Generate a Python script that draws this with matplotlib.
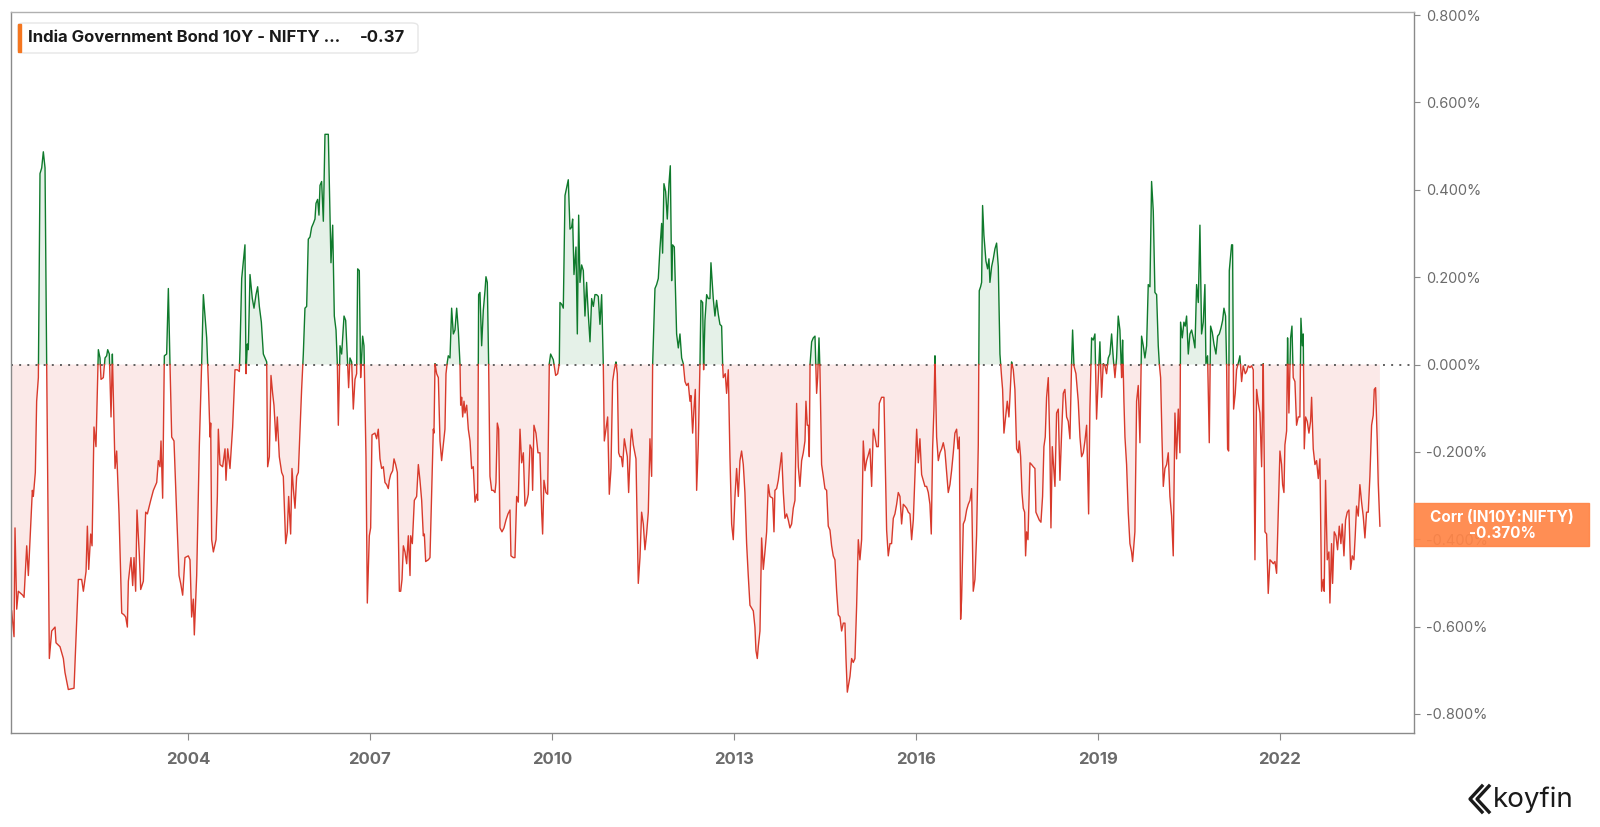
import numpy as np
import matplotlib
matplotlib.use("Agg")
import matplotlib.pyplot as plt
from matplotlib.patches import FancyBboxPatch, Rectangle
from matplotlib.lines import Line2D

plt.rcParams['font.family'] = ['Inter', 'DejaVu Sans']

# rolling correlation IN10Y vs NIFTY (decimal years, value)
years_a = [2001.096, 2001.135, 2001.151, 2001.179, 2001.206, 2001.278, 2001.300, 2001.344, 2001.371, 2001.410,
           2001.437, 2001.453, 2001.486, 2001.508, 2001.536, 2001.563, 2001.591, 2001.618, 2001.646, 2001.673,
           2001.717, 2001.756, 2001.811, 2001.827, 2001.893, 2001.948, 2001.975, 2002.030, 2002.124, 2002.195,
           2002.250, 2002.278, 2002.322, 2002.344, 2002.366, 2002.399, 2002.421, 2002.453, 2002.486, 2002.525,
           2002.552, 2002.569, 2002.607, 2002.635, 2002.662, 2002.679, 2002.706, 2002.734, 2002.756, 2002.800,
           2002.827, 2002.866, 2002.910, 2002.948, 2002.976, 2003.003, 2003.020, 2003.063, 2003.091, 2003.113,
           2003.140, 2003.162, 2003.201, 2003.223, 2003.267, 2003.305, 2003.333, 2003.388, 2003.432, 2003.487,
           2003.514, 2003.541, 2003.558, 2003.585, 2003.613, 2003.651, 2003.679, 2003.706, 2003.734, 2003.772,
           2003.816, 2003.855, 2003.882, 2003.915, 2003.953, 2004.008, 2004.036, 2004.063, 2004.091, 2004.107,
           2004.146, 2004.190, 2004.228, 2004.256, 2004.311, 2004.338, 2004.366, 2004.377, 2004.393, 2004.421,
           2004.465, 2004.487, 2004.503, 2004.530, 2004.574, 2004.613, 2004.629, 2004.657, 2004.695, 2004.739,
           2004.778, 2004.816, 2004.849, 2004.860, 2004.888, 2004.942, 2004.959, 2004.981, 2004.997, 2005.025,
           2005.063, 2005.091, 2005.124, 2005.151, 2005.179, 2005.212, 2005.245, 2005.300, 2005.316, 2005.344,
           2005.371, 2005.398, 2005.420, 2005.453, 2005.475, 2005.508, 2005.547, 2005.574, 2005.613, 2005.640,
           2005.662, 2005.695, 2005.717, 2005.739, 2005.767, 2005.794, 2005.822, 2005.876, 2005.904, 2005.931,
           2005.959, 2005.986, 2006.014, 2006.041, 2006.069, 2006.096, 2006.113, 2006.140, 2006.162, 2006.179,
           2006.206, 2006.234, 2006.261, 2006.316, 2006.344, 2006.360, 2006.388, 2006.415, 2006.443, 2006.465,
           2006.481, 2006.509, 2006.536, 2006.575, 2006.602, 2006.630, 2006.651, 2006.673, 2006.701, 2006.728,
           2006.756, 2006.783, 2006.800, 2006.827, 2006.849, 2006.882, 2006.904, 2006.937, 2006.959, 2006.992,
           2007.014, 2007.036, 2007.085, 2007.113, 2007.140]
vals_a = [-0.564, -0.623, -0.374, -0.560, -0.519, -0.528, -0.533, -0.415, -0.483, -0.370,
          -0.288, -0.302, -0.247, -0.084, -0.030, 0.437, 0.450, 0.487, 0.450, 0.002,
          -0.673, -0.610, -0.601, -0.637, -0.646, -0.673, -0.705, -0.744, -0.741, -0.492,
          -0.492, -0.519, -0.474, -0.370, -0.469, -0.388, -0.415, -0.143, -0.188, 0.034,
          0.015, -0.034, -0.030, 0.015, 0.020, 0.034, 0.024, -0.120, 0.024, -0.238,
          -0.198, -0.342, -0.569, -0.573, -0.578, -0.601, -0.496, -0.442, -0.506, -0.442,
          -0.519, -0.333, -0.438, -0.515, -0.496, -0.338, -0.342, -0.311, -0.288, -0.270,
          -0.220, -0.234, -0.175, -0.306, 0.020, 0.024, 0.174, 0.002, -0.166, -0.175,
          -0.342, -0.483, -0.501, -0.528, -0.442, -0.438, -0.447, -0.578, -0.537, -0.619,
          -0.483, -0.184, 0.002, 0.160, 0.061, -0.039, -0.166, -0.134, -0.401, -0.429,
          -0.401, -0.302, -0.148, -0.229, -0.234, -0.193, -0.265, -0.193, -0.238, -0.143,
          -0.012, -0.012, -0.016, 0.034, 0.197, 0.274, -0.021, 0.047, 0.034, 0.206,
          0.151, 0.129, 0.160, 0.178, 0.133, 0.097, 0.024, 0.006, -0.234, -0.211,
          -0.025, -0.066, -0.093, -0.175, -0.120, -0.211, -0.247, -0.256, -0.410, -0.383,
          -0.302, -0.388, -0.238, -0.284, -0.329, -0.256, -0.247, -0.057, 0.024, 0.129,
          0.133, 0.287, 0.292, 0.314, 0.323, 0.333, 0.369, 0.378, 0.342, 0.410,
          0.419, 0.328, 0.527, 0.527, 0.333, 0.233, 0.319, 0.111, 0.079, 0.002,
          -0.139, 0.043, 0.024, 0.111, 0.101, 0.015, -0.053, 0.015, 0.006, -0.102,
          -0.034, -0.021, 0.219, 0.215, -0.030, 0.065, 0.043, -0.211, -0.546, -0.392,
          -0.374, -0.161, -0.157, -0.170, -0.148]

years_b = [2007.168, 2007.195, 2007.223, 2007.250, 2007.278, 2007.305, 2007.322, 2007.344, 2007.377, 2007.399,
           2007.426, 2007.454, 2007.487, 2007.509, 2007.531, 2007.553, 2007.580, 2007.608, 2007.635, 2007.663,
           2007.674, 2007.701, 2007.734, 2007.772, 2007.800, 2007.827, 2007.855, 2007.882, 2007.899, 2007.921,
           2007.965, 2007.992, 2008.020, 2008.047, 2008.058, 2008.075, 2008.102, 2008.130, 2008.157, 2008.184,
           2008.212, 2008.239, 2008.256, 2008.278, 2008.294, 2008.322, 2008.349, 2008.377, 2008.404, 2008.432,
           2008.459, 2008.487, 2008.498, 2008.514, 2008.531, 2008.553, 2008.569, 2008.597, 2008.624, 2008.652,
           2008.679, 2008.706, 2008.734, 2008.762, 2008.778, 2008.794, 2008.816, 2008.844, 2008.871, 2008.899,
           2008.915, 2008.937, 2008.959, 2008.981, 2009.009, 2009.036, 2009.064, 2009.080, 2009.102, 2009.124,
           2009.146, 2009.179, 2009.212, 2009.245, 2009.278, 2009.311, 2009.327, 2009.366, 2009.393, 2009.421,
           2009.448, 2009.476, 2009.503, 2009.531, 2009.558, 2009.586, 2009.613, 2009.641, 2009.668, 2009.684,
           2009.706, 2009.739, 2009.772, 2009.805, 2009.833, 2009.849, 2009.871, 2009.904, 2009.932, 2009.959,
           2009.981, 2010.025, 2010.064, 2010.097, 2010.124, 2010.135, 2010.163, 2010.190, 2010.218, 2010.245,
           2010.272, 2010.300, 2010.327, 2010.344, 2010.366, 2010.399, 2010.421, 2010.443, 2010.465, 2010.492,
           2010.520, 2010.547, 2010.574, 2010.602, 2010.630, 2010.657, 2010.685, 2010.712, 2010.739, 2010.767,
           2010.794, 2010.822, 2010.849, 2010.866, 2010.893, 2010.921, 2010.948, 2010.976, 2011.003, 2011.031,
           2011.058, 2011.080, 2011.102, 2011.124, 2011.146, 2011.168, 2011.196, 2011.223, 2011.245, 2011.267,
           2011.300, 2011.316, 2011.344, 2011.388, 2011.426, 2011.454, 2011.481, 2011.509, 2011.536, 2011.563,
           2011.591, 2011.618, 2011.646, 2011.662, 2011.701, 2011.728, 2011.756, 2011.783, 2011.811, 2011.827,
           2011.849, 2011.877, 2011.904, 2011.932, 2011.954, 2011.976, 2011.992, 2012.020, 2012.058, 2012.086,
           2012.113, 2012.141, 2012.168, 2012.196, 2012.223, 2012.250, 2012.278, 2012.294, 2012.322, 2012.344,
           2012.366, 2012.388, 2012.415, 2012.443, 2012.459, 2012.487, 2012.503, 2012.525, 2012.553, 2012.580,
           2012.607, 2012.624, 2012.640, 2012.662, 2012.690, 2012.717, 2012.745, 2012.772, 2012.800, 2012.816,
           2012.827, 2012.860, 2012.882, 2012.910, 2012.937, 2012.965, 2012.992, 2013.020, 2013.047, 2013.075,
           2013.102, 2013.129, 2013.157, 2013.184, 2013.212, 2013.239, 2013.267, 2013.322, 2013.349, 2013.366,
           2013.388, 2013.404]
vals_b = [-0.216, -0.238, -0.234, -0.270, -0.275, -0.284, -0.265, -0.252, -0.243, -0.216,
          -0.229, -0.247, -0.519, -0.519, -0.492, -0.415, -0.429, -0.456, -0.392, -0.483,
          -0.392, -0.410, -0.311, -0.302, -0.229, -0.265, -0.311, -0.392, -0.388, -0.451,
          -0.447, -0.442, -0.293, -0.148, -0.157, 0.002, -0.021, -0.030, -0.175, -0.220,
          -0.184, -0.148, -0.021, 0.006, 0.020, 0.015, 0.129, 0.070, 0.079, 0.129,
          0.079, 0.002, -0.093, -0.075, -0.120, -0.084, -0.111, -0.093, -0.148, -0.175,
          -0.238, -0.234, -0.315, -0.297, -0.311, 0.160, 0.165, 0.043, 0.124, 0.169,
          0.201, 0.188, 0.002, -0.256, -0.288, -0.288, -0.293, -0.270, -0.134, -0.148,
          -0.374, -0.383, -0.374, -0.356, -0.342, -0.333, -0.438, -0.442, -0.442, -0.302,
          -0.315, -0.148, -0.225, -0.202, -0.324, -0.315, -0.297, -0.184, -0.193, -0.288,
          -0.139, -0.157, -0.202, -0.202, -0.338, -0.388, -0.265, -0.293, -0.297, 0.002,
          0.024, 0.011, -0.025, -0.021, 0.002, 0.142, 0.138, 0.129, 0.387, 0.405,
          0.423, 0.310, 0.314, 0.333, 0.206, 0.269, 0.070, 0.342, 0.188, 0.228,
          0.215, 0.111, 0.188, 0.115, 0.052, 0.151, 0.133, 0.160, 0.160, 0.156,
          0.092, 0.160, 0.002, -0.175, -0.148, -0.120, -0.297, -0.238, -0.039, -0.012,
          0.006, -0.021, -0.202, -0.211, -0.211, -0.234, -0.170, -0.193, -0.211, -0.293,
          -0.175, -0.148, -0.184, -0.216, -0.501, -0.442, -0.338, -0.365, -0.424, -0.388,
          -0.338, -0.170, -0.256, -0.003, 0.174, 0.183, 0.197, 0.265, 0.323, 0.255,
          0.414, 0.396, 0.333, 0.414, 0.455, 0.192, 0.274, 0.269, 0.070, 0.038,
          0.070, 0.015, 0.002, -0.039, -0.048, -0.043, -0.084, -0.071, -0.157, -0.102,
          -0.057, -0.288, -0.184, 0.002, 0.147, 0.142, -0.012, 0.101, 0.160, 0.151,
          0.151, 0.233, 0.197, 0.151, 0.111, 0.147, 0.115, 0.092, 0.088, 0.002,
          -0.030, -0.021, -0.066, -0.012, -0.211, -0.365, -0.401, -0.302, -0.238, -0.302,
          -0.220, -0.198, -0.229, -0.293, -0.410, -0.483, -0.551, -0.564, -0.601, -0.655,
          -0.673, -0.646]

years_c = [2013.432, 2013.459, 2013.487, 2013.514, 2013.542, 2013.569, 2013.597, 2013.641, 2013.663, 2013.679,
           2013.707, 2013.734, 2013.762, 2013.789, 2013.817, 2013.844, 2013.872, 2013.899, 2013.926, 2013.954,
           2013.981, 2014.009, 2014.036, 2014.064, 2014.091, 2014.119, 2014.146, 2014.174, 2014.190, 2014.212,
           2014.229, 2014.245, 2014.256, 2014.284, 2014.311, 2014.339, 2014.366, 2014.383, 2014.405, 2014.421,
           2014.448, 2014.476, 2014.503, 2014.531, 2014.558, 2014.586, 2014.613, 2014.640, 2014.668, 2014.696,
           2014.723, 2014.751, 2014.778, 2014.806, 2014.833, 2014.850, 2014.872, 2014.894, 2014.916, 2014.943,
           2014.970, 2014.998, 2015.025, 2015.053, 2015.080, 2015.108, 2015.135, 2015.163, 2015.190, 2015.218,
           2015.245, 2015.273, 2015.300, 2015.328, 2015.355, 2015.383, 2015.399, 2015.437, 2015.476, 2015.498,
           2015.520, 2015.547, 2015.575, 2015.602, 2015.630, 2015.657, 2015.685, 2015.712, 2015.740, 2015.767,
           2015.795, 2015.822, 2015.850, 2015.877, 2015.905, 2015.932, 2015.960, 2015.987, 2016.015, 2016.042,
           2016.069, 2016.097, 2016.124, 2016.152, 2016.179, 2016.207, 2016.234, 2016.256, 2016.278, 2016.300,
           2016.317, 2016.344, 2016.372, 2016.399, 2016.427, 2016.454, 2016.481, 2016.509, 2016.536, 2016.564,
           2016.591, 2016.619, 2016.646, 2016.674, 2016.696, 2016.718, 2016.740, 2016.756, 2016.784, 2016.811,
           2016.839, 2016.866, 2016.894, 2016.921, 2016.948, 2016.976, 2017.003, 2017.031, 2017.047, 2017.069,
           2017.086, 2017.102, 2017.124, 2017.157, 2017.185, 2017.207, 2017.223, 2017.251, 2017.278, 2017.306,
           2017.333, 2017.361, 2017.388, 2017.416, 2017.432, 2017.454, 2017.481, 2017.509, 2017.536, 2017.553,
           2017.580, 2017.608, 2017.635, 2017.663, 2017.690, 2017.707, 2017.729, 2017.751, 2017.773, 2017.795,
           2017.811, 2017.828, 2017.850, 2017.883, 2017.910, 2017.938, 2017.965, 2017.981, 2018.009, 2018.036,
           2018.064, 2018.091, 2018.113, 2018.135, 2018.157, 2018.185, 2018.212, 2018.229, 2018.251, 2018.267,
           2018.295, 2018.322, 2018.350, 2018.377, 2018.405, 2018.432, 2018.459, 2018.487, 2018.514, 2018.542,
           2018.569, 2018.586, 2018.608, 2018.641, 2018.679, 2018.707, 2018.734, 2018.762, 2018.789, 2018.817,
           2018.850, 2018.871, 2018.899, 2018.926, 2018.954, 2018.981, 2019.009, 2019.036, 2019.064, 2019.091,
           2019.119, 2019.146, 2019.174, 2019.201, 2019.229, 2019.256, 2019.284, 2019.311, 2019.338, 2019.366,
           2019.394, 2019.410, 2019.432, 2019.449, 2019.476, 2019.503, 2019.531, 2019.558, 2019.575, 2019.613,
           2019.641, 2019.668]
vals_c = [-0.610, -0.397, -0.469, -0.429, -0.383, -0.275, -0.302, -0.306, -0.383, -0.288,
          -0.284, -0.265, -0.234, -0.202, -0.293, -0.352, -0.342, -0.356, -0.374, -0.365,
          -0.329, -0.311, -0.089, -0.234, -0.279, -0.220, -0.202, -0.175, -0.084, -0.139,
          -0.139, -0.211, -0.003, 0.052, 0.061, 0.065, -0.066, -0.030, 0.061, -0.012,
          -0.229, -0.256, -0.284, -0.288, -0.370, -0.379, -0.415, -0.438, -0.447, -0.519,
          -0.573, -0.578, -0.610, -0.592, -0.592, -0.673, -0.750, -0.732, -0.714, -0.673,
          -0.682, -0.673, -0.555, -0.401, -0.447, -0.401, -0.175, -0.243, -0.220, -0.207,
          -0.193, -0.279, -0.148, -0.166, -0.188, -0.188, -0.089, -0.075, -0.075, -0.225,
          -0.379, -0.438, -0.410, -0.410, -0.352, -0.342, -0.320, -0.293, -0.302, -0.365,
          -0.320, -0.324, -0.329, -0.338, -0.342, -0.401, -0.356, -0.252, -0.148, -0.225,
          -0.170, -0.252, -0.265, -0.279, -0.279, -0.293, -0.320, -0.388, -0.193, -0.102,
          0.020, -0.166, -0.220, -0.202, -0.193, -0.179, -0.198, -0.247, -0.293, -0.275,
          -0.243, -0.202, -0.157, -0.148, -0.193, -0.166, -0.583, -0.537, -0.365, -0.356,
          -0.333, -0.320, -0.311, -0.284, -0.519, -0.492, -0.392, -0.184, 0.169, 0.178,
          0.188, 0.364, 0.296, 0.237, 0.219, 0.242, 0.188, 0.224, 0.242, 0.265,
          0.278, 0.224, 0.024, -0.030, -0.057, -0.157, -0.120, -0.084, -0.120, -0.075,
          0.006, -0.012, -0.057, -0.193, -0.202, -0.175, -0.211, -0.293, -0.329, -0.338,
          -0.438, -0.383, -0.401, -0.225, -0.229, -0.234, -0.238, -0.338, -0.347, -0.356,
          -0.361, -0.302, -0.188, -0.166, -0.075, -0.030, -0.193, -0.374, -0.188, -0.220,
          -0.279, -0.111, -0.102, -0.265, -0.157, -0.066, -0.057, -0.120, -0.130, -0.170,
          0.002, 0.079, -0.003, -0.021, -0.084, -0.166, -0.211, -0.202, -0.175, -0.139,
          -0.342, -0.102, 0.061, 0.056, 0.070, -0.125, -0.030, 0.052, -0.075, 0.002,
          -0.003, -0.021, 0.015, 0.024, 0.070, 0.015, -0.030, 0.015, 0.111, 0.079,
          -0.030, 0.056, -0.084, -0.166, -0.229, -0.338, -0.410, -0.429, -0.451, -0.383,
          -0.084, -0.048]

years_d = [2019.696, 2019.723, 2019.751, 2019.778, 2019.806, 2019.833, 2019.861, 2019.888, 2019.916, 2019.943,
           2019.971, 2019.998, 2020.015, 2020.037, 2020.059, 2020.081, 2020.108, 2020.136, 2020.163, 2020.190,
           2020.218, 2020.245, 2020.273, 2020.300, 2020.328, 2020.355, 2020.366, 2020.394, 2020.421, 2020.443,
           2020.465, 2020.493, 2020.520, 2020.548, 2020.575, 2020.603, 2020.630, 2020.658, 2020.685, 2020.712,
           2020.740, 2020.767, 2020.784, 2020.811, 2020.839, 2020.861, 2020.888, 2020.916, 2020.949, 2020.976,
           2021.004, 2021.031, 2021.059, 2021.081, 2021.108, 2021.125, 2021.141, 2021.158, 2021.169, 2021.207,
           2021.223, 2021.240, 2021.267, 2021.289, 2021.322, 2021.344, 2021.372, 2021.399, 2021.432, 2021.454,
           2021.482, 2021.509, 2021.537, 2021.564, 2021.592, 2021.619, 2021.647, 2021.674, 2021.702, 2021.729,
           2021.757, 2021.784, 2021.811, 2021.839, 2021.866, 2021.894, 2021.921, 2021.949, 2021.976, 2022.004,
           2022.031, 2022.048, 2022.070, 2022.086, 2022.114, 2022.130, 2022.152, 2022.180, 2022.202, 2022.223,
           2022.251, 2022.278, 2022.306, 2022.333, 2022.350, 2022.372, 2022.388, 2022.405, 2022.427, 2022.454,
           2022.482, 2022.509, 2022.526, 2022.553, 2022.581, 2022.608, 2022.636, 2022.663, 2022.690, 2022.718,
           2022.734, 2022.756, 2022.784, 2022.811, 2022.828, 2022.855, 2022.872, 2022.899, 2022.927, 2022.954,
           2022.982, 2023.009, 2023.031, 2023.059, 2023.086, 2023.114, 2023.141, 2023.169, 2023.196, 2023.224,
           2023.245, 2023.267, 2023.295, 2023.322, 2023.350, 2023.377, 2023.405, 2023.432, 2023.460, 2023.487,
           2023.515, 2023.542, 2023.559, 2023.581, 2023.608, 2023.624, 2023.652]
vals_d = [-0.179, 0.065, 0.043, 0.015, 0.043, 0.183, 0.178, 0.419, 0.351, 0.165,
          0.160, 0.043, 0.002, -0.030, -0.166, -0.279, -0.238, -0.229, -0.202, -0.302,
          -0.347, -0.438, -0.111, -0.216, -0.102, -0.202, 0.097, 0.061, 0.097, 0.088,
          0.111, 0.024, 0.070, 0.079, 0.061, 0.038, 0.183, 0.142, 0.319, 0.070,
          0.097, 0.183, 0.002, 0.020, -0.179, 0.088, 0.074, 0.047, 0.024, 0.065,
          0.070, 0.083, 0.101, 0.129, 0.111, -0.003, -0.193, -0.198, 0.215, 0.274,
          0.274, -0.102, -0.066, -0.012, 0.006, 0.020, -0.039, -0.003, -0.021, -0.016,
          -0.003, -0.007, -0.003, -0.012, -0.447, -0.057, -0.089, -0.111, -0.234, 0.002,
          -0.383, -0.388, -0.524, -0.447, -0.451, -0.456, -0.451, -0.478, -0.338, -0.198,
          -0.229, -0.275, -0.293, -0.184, -0.152, 0.061, -0.111, 0.061, 0.088, -0.030,
          -0.039, -0.139, -0.120, -0.120, 0.106, 0.043, 0.070, -0.193, -0.120, -0.130,
          -0.157, -0.130, -0.075, -0.193, -0.229, -0.220, -0.261, -0.216, -0.519, -0.492,
          -0.519, -0.265, -0.447, -0.429, -0.546, -0.410, -0.501, -0.383, -0.392, -0.424,
          -0.370, -0.410, -0.365, -0.438, -0.356, -0.338, -0.333, -0.469, -0.438, -0.447,
          -0.392, -0.324, -0.347, -0.275, -0.315, -0.347, -0.397, -0.338, -0.338, -0.256,
          -0.139, -0.116, -0.057, -0.053, -0.175, -0.270, -0.370]

year_ticks = [2004, 2007, 2010, 2013, 2016, 2019, 2022]
y_ticks = [0.8, 0.6, 0.4, 0.2, 0.0, -0.2, -0.4, -0.6, -0.8]
legend_name = "India Government Bond 10Y - NIFTY \u2026"
last_value = -0.37
badge_title = "Corr (IN10Y:NIFTY)"

x = np.array(years_a + years_b + years_c + years_d)
y = np.array(vals_a + vals_b + vals_c + vals_d)

# add the zero crossings so the line can change colour cleanly
xs, ys = [x[0]], [y[0]]
for i in range(1, len(x)):
    if y[i - 1] * y[i] < 0:
        t = y[i - 1] / (y[i - 1] - y[i])
        xs.append(x[i - 1] + t * (x[i] - x[i - 1]))
        ys.append(0.0)
    xs.append(x[i])
    ys.append(y[i])
xs = np.array(xs)
ys = np.array(ys)

green, green_fill = '#0f7a2c', '#e5f1e8'
red, red_fill = '#d83a2c', '#fbe9e8'
grey = '#6b6b6b'

fig = plt.figure(figsize=(16, 8.27), dpi=100)
ax = fig.add_axes([11 / 1600, 1 - 733 / 827, (1414 - 11) / 1600, (733 - 12) / 827])

ax.fill_between(xs, ys, 0, where=ys >= 0, color=green_fill, lw=0, zorder=1)
ax.fill_between(xs, ys, 0, where=ys <= 0, color=red_fill, lw=0, zorder=1)
ax.axhline(0, color='#5f5f5f', lw=1.4, ls=(0, (1, 3.2)), zorder=1.5)
ax.plot(xs, np.where(ys >= 0, ys, np.nan), color=green, lw=1.0, zorder=2)
ax.plot(xs, np.where(ys <= 0, ys, np.nan), color=red, lw=1.0, zorder=2)

ax.set_xlim(2001.085, 2024.214)
ax.set_ylim(-0.8435, 0.807)

for s in ax.spines.values():
    s.set_color('#8a8a8a')
    s.set_linewidth(1.0)
ax.spines['top'].set_color('#b0b0b0')

ax.yaxis.tick_right()
ax.set_yticks(y_ticks)
ax.set_yticklabels(['%.3f%%' % v for v in y_ticks])
ax.tick_params(axis='y', direction='out', length=4, color='#8a8a8a',
               labelcolor=grey, labelsize=10.5, pad=5)
ax.set_xticks(year_ticks)
ax.set_xticklabels([str(v) for v in year_ticks], fontweight='bold')
ax.tick_params(axis='x', direction='out', length=5, color='#8a8a8a',
               labelcolor=grey, labelsize=12, pad=9)

# legend box top-left
leg = FancyBboxPatch((18 / 1600, 1 - 53 / 827), 400 / 1600, 30 / 827,
                     boxstyle='round,pad=0,rounding_size=0.004', transform=fig.transFigure,
                     facecolor='white', edgecolor='#e6e6e6', lw=1.0)
fig.patches.append(leg)
fig.patches.append(Rectangle((18 / 1600, 1 - 52 / 827), 3 / 1600, 28 / 827,
                             transform=fig.transFigure, color='#f5761f'))
fig.text(28 / 1600, 1 - 38 / 827, legend_name, fontsize=12, fontweight='bold',
         color='#1a1a1a', va='center', ha='left')
fig.text(360 / 1600, 1 - 38 / 827, '%.2f' % last_value, fontsize=12, fontweight='bold',
         color='#1a1a1a', va='center', ha='left')

# last value badge on the right axis (the -0.400% label shows faintly through it)
fig.patches.append(Rectangle((1414 / 1600, 1 - 546 / 827), 175 / 1600, 43 / 827,
                             transform=fig.transFigure, color='#ff8547', alpha=0.93))
fig.text(1502 / 1600, 1 - 517 / 827, badge_title, fontsize=11, fontweight='bold',
         color='white', ha='center', va='center')
fig.text(1502 / 1600, 1 - 533 / 827, '%.3f%%' % last_value, fontsize=11, fontweight='bold',
         color='white', ha='center', va='center')

# koyfin mark
for dx in (0, 7):
    fig.add_artist(Line2D([(1482 + dx) / 1600, (1470 + dx) / 1600, (1482 + dx) / 1600],
                          [1 - 786 / 827, 1 - 799 / 827, 1 - 812 / 827],
                          transform=fig.transFigure, color='#1a1a1a', lw=2.4))
fig.text(1493 / 1600, 1 - 800 / 827, 'koyfin', fontsize=20, color='#1a1a1a',
         ha='left', va='center')

fig.savefig('out.png', dpi=100)
